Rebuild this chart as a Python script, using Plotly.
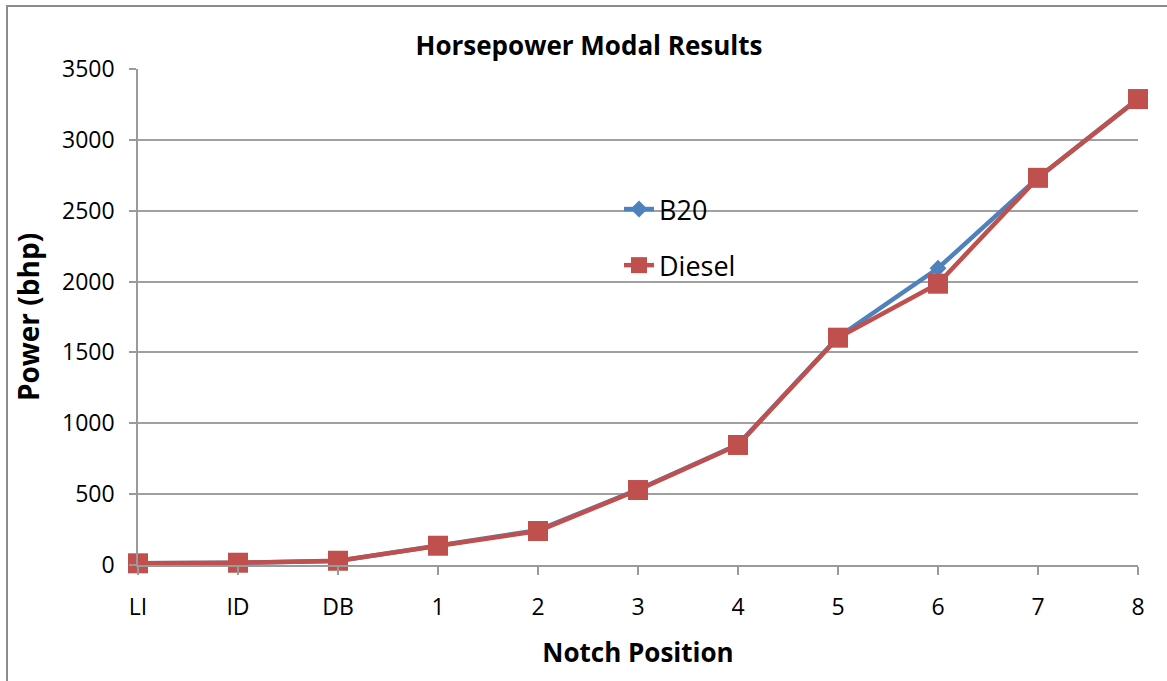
import plotly.graph_objects as go

categories = ["LI", "ID", "DB", "1", "2", "3", "4", "5", "6", "7", "8"]
b20 = [12, 16, 28, 140, 246, 532, 850, 1608, 2094, 2733, 3290]
diesel = [12, 16, 30, 136, 240, 529, 847, 1604, 1985, 2732, 3288]
yticks = [0, 500, 1000, 1500, 2000, 2500, 3000, 3500]

FONT = "Open Sans"
W, H = 1167, 681
L, R, T, B = 138, 29, 69, 116
pw, ph = W - L - R, H - T - B

fig = go.Figure()
fig.add_trace(go.Scatter(
    x=categories, y=b20, name="B20", mode="lines+markers",
    line=dict(color="#4F81BD", width=4.5),
    marker=dict(symbol="diamond", size=13, color="#4F81BD"),
    legendgroup="a", cliponaxis=False,
))
fig.add_trace(go.Scatter(
    x=categories, y=diesel, name="Diesel", mode="lines+markers",
    line=dict(color="#C0504D", width=4.5),
    marker=dict(symbol="square", size=20, color="#C0504D"),
    legendgroup="b", cliponaxis=False,
))

fig.update_layout(
    width=W, height=H,
    margin=dict(l=L, r=R, t=T, b=B),
    paper_bgcolor="white", plot_bgcolor="white",
    font=dict(family=FONT, color="black", size=22),
    title=dict(text="<b>Horsepower Modal Results</b>", x=589 / W, xanchor="center",
               y=1 - 46 / H, yanchor="middle", font=dict(size=26, family=FONT)),
    showlegend=True,
    legend=dict(x=(619 - L) / pw, y=(565 - 185) / ph, xanchor="left", yanchor="top",
                font=dict(size=27, family=FONT), bgcolor="rgba(0,0,0,0)",
                traceorder="grouped", tracegroupgap=18, itemwidth=30),
    xaxis=dict(
        type="category", range=[0, len(categories) - 1],
        showgrid=False, showline=True, linecolor="#9a9a9a", linewidth=1.5,
        ticks="outside", ticklen=8, tickcolor="#9a9a9a", tickwidth=1.5,
        tickfont=dict(size=23, family=FONT), ticklabelstandoff=13,
        title=dict(text="<b>Notch Position</b>", font=dict(size=26, family=FONT), standoff=22),
    ),
    yaxis=dict(
        range=[0, 3500], tickvals=yticks,
        showgrid=True, gridcolor="#a0a0a0", gridwidth=1.5,
        showline=True, linecolor="#9a9a9a", linewidth=1.5,
        ticks="outside", ticklen=7, tickcolor="#9a9a9a", tickwidth=1.5,
        tickfont=dict(size=23, family=FONT), ticklabelstandoff=10,
        zeroline=False,
        title=dict(text="<b>Power (bhp)</b>", font=dict(size=28, family=FONT), standoff=14),
    ),
)

fig.add_shape(type="rect", xref="paper", yref="paper",
              x0=(7 - L) / pw, x1=(W + 20 - L) / pw,
              y0=-(B + 20) / ph, y1=1 + (T - 6) / ph,
              line=dict(color="#8c8c8c", width=2), fillcolor="rgba(0,0,0,0)", layer="below")

fig.write_html("out.html", config={"displayModeBar": False},
               post_script="document.body.style.margin='0';")
